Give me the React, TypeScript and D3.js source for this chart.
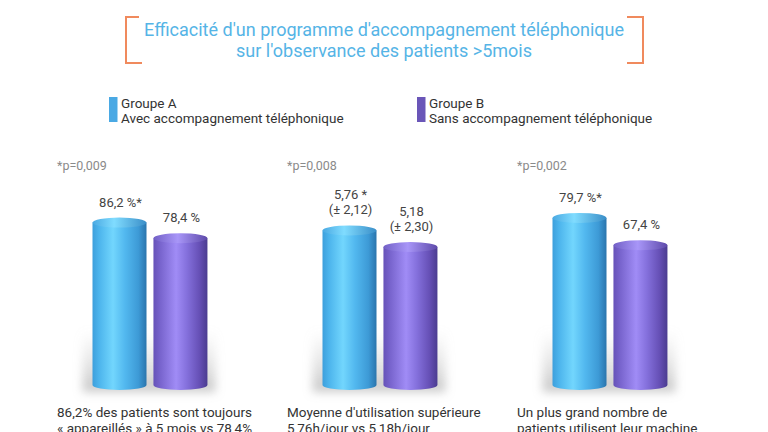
import React from "react";
import * as d3 from "d3";

const panels = ["adherence", "usage", "users"];
const groupAValues = [86.2, 5.76, 79.7];
const groupBValues = [78.4, 5.18, 67.4];
const panelScaleMax = [100, 7, 90];
const groupALabels = [["86,2 %*"], ["5,76 *", "(± 2,12)"], ["79,7 %*"]];
const groupBLabels = [["78,4 %"], ["5,18", "(± 2,30)"], ["67,4 %"]];
const pValues = ["*p=0,009", "*p=0,008", "*p=0,002"];
const captions = [
  ["86,2% des patients sont toujours", "« appareillés » à 5 mois vs 78,4%"],
  ["Moyenne d'utilisation supérieure", "5,76h/jour vs 5,18h/jour"],
  ["Un plus grand nombre de", "patients utilisent leur machine"],
];
const titleLines = [
  "Efficacité d'un programme d'accompagnement téléphonique",
  "sur l'observance des patients >5mois",
];
const groups = ["A", "B"];
const legendTitles = ["Groupe A", "Groupe B"];
const legendSubtitles = ["Avec accompagnement téléphonique", "Sans accompagnement téléphonique"];

const W = 768;
const H = 432;
const FONT = "Roboto, 'Noto Sans', Arial, sans-serif";
const BAR_W = 54;
const RY = 5;
const BASE = 390;
const TOP = 190;

export default function App() {
  const xPanel = d3.scalePoint<string>().domain(panels).range([151, 611]);
  const xGroup = d3.scaleBand<string>().domain(groups).range([-58.5, 58.5]).paddingInner(0.08);

  const cyl = (id: string, x: number, yTop: number) => {
    const bodyTop = yTop + RY;
    const bodyBot = BASE - RY;
    const cx = x + BAR_W / 2;
    const rx = BAR_W / 2;
    const d = `M${x},${bodyTop} L${x},${bodyBot} A${rx},${RY} 0 0 0 ${x + BAR_W},${bodyBot} L${x + BAR_W},${bodyTop} Z`;
    return (
      <g>
        <path d={d} fill={`url(#grad${id})`} />
        <ellipse cx={cx} cy={bodyTop} rx={rx} ry={RY} fill={`url(#cap${id})`} />
      </g>
    );
  };

  return (
    <svg width={W} height={H} style={{ position: "absolute", left: 0, top: 0, background: "#fff" }} fontFamily={FONT}>
      <defs>
        <linearGradient id="gradA" x1="0" x2="1" y1="0" y2="0">
          <stop offset="0" stopColor="#3d9fdc" />
          <stop offset="0.12" stopColor="#4cb4ec" />
          <stop offset="0.38" stopColor="#72d6fd" />
          <stop offset="0.6" stopColor="#52b8ef" />
          <stop offset="0.85" stopColor="#3d9ad6" />
          <stop offset="1" stopColor="#2a75ad" />
        </linearGradient>
        <linearGradient id="capA" x1="0" x2="1" y1="0" y2="0">
          <stop offset="0" stopColor="#4aa9e2" />
          <stop offset="0.4" stopColor="#80dcff" />
          <stop offset="1" stopColor="#3a8ec8" />
        </linearGradient>
        <linearGradient id="gradB" x1="0" x2="1" y1="0" y2="0">
          <stop offset="0" stopColor="#6652b8" />
          <stop offset="0.12" stopColor="#7763cc" />
          <stop offset="0.42" stopColor="#a08cf6" />
          <stop offset="0.62" stopColor="#8470dc" />
          <stop offset="0.85" stopColor="#6650b6" />
          <stop offset="1" stopColor="#4b3c90" />
        </linearGradient>
        <linearGradient id="capB" x1="0" x2="1" y1="0" y2="0">
          <stop offset="0" stopColor="#7260c6" />
          <stop offset="0.45" stopColor="#a896f8" />
          <stop offset="1" stopColor="#5e4aaa" />
        </linearGradient>
        <linearGradient id="shadowGrad" x1="0" x2="0" y1="0" y2="1">
          <stop offset="0" stopColor="#bbb" stopOpacity="0" />
          <stop offset="1" stopColor="#999" stopOpacity="0.55" />
        </linearGradient>
        <filter id="blur" x="-20%" y="-40%" width="140%" height="180%">
          <feGaussianBlur stdDeviation="5" />
        </filter>
      </defs>

      {/* Title brackets */}
      <path d="M139,17 L126,17 L126,63 L142,63" fill="none" stroke="#f08a5d" strokeWidth={2} />
      <path d="M627,17 L643,17 L643,63 L627,63" fill="none" stroke="#f08a5d" strokeWidth={2} />
      {titleLines.map((t, i) => (
        <text key={i} x={384} y={36 + i * 21} textAnchor="middle" fontSize={18} fill="#55b4e6">
          {t}
        </text>
      ))}

      {/* Legend */}
      {groups.map((g, i) => {
        const lx = i === 0 ? 109 : 417;
        return (
          <g key={g}>
            <rect x={lx} y={97} width={8.5} height={25} fill={i === 0 ? "#4aa9e4" : "#6a56b8"} />
            <text x={lx + 12} y={107.5} fontSize={13.5} fill="#333">{legendTitles[i]}</text>
            <text x={lx + 12} y={123} fontSize={13.5} fill="#333">{legendSubtitles[i]}</text>
          </g>
        );
      })}

      {panels.map((p, i) => {
        const cx = xPanel(p)!;
        const y = d3.scaleLinear().domain([0, panelScaleMax[i]]).range([BASE, TOP]);
        const xa = cx + xGroup("A")!;
        const xb = cx + xGroup("B")!;
        const bw = xGroup.bandwidth();
        const ya = y(groupAValues[i]);
        const yb = y(groupBValues[i]);
        const left = cx - 94;
        return (
          <g key={p}>
            <rect x={xa - 10} y={330} width={xb + bw - xa + 16} height={62} fill="url(#shadowGrad)" filter="url(#blur)" />
            {cyl("A", xa, ya)}
            {cyl("B", xb, yb)}
            <text x={left} y={170} fontSize={12.5} fill="#8a8a8a">{pValues[i]}</text>
            {groupALabels[i].map((l, k, arr) => (
              <text key={k} x={xa + bw / 2} y={ya - 11 - (arr.length - 1 - k) * 15} textAnchor="middle" fontSize={13} fill="#444">
                {l}
              </text>
            ))}
            {groupBLabels[i].map((l, k, arr) => (
              <text key={k} x={xb + bw / 2} y={yb - 11 - (arr.length - 1 - k) * 15} textAnchor="middle" fontSize={13} fill="#444">
                {l}
              </text>
            ))}
            {captions[i].map((c, k) => (
              <text key={k} x={left} y={417 + k * 16} fontSize={13.5} fill="#333">
                {c}
              </text>
            ))}
          </g>
        );
      })}
    </svg>
  );
}
